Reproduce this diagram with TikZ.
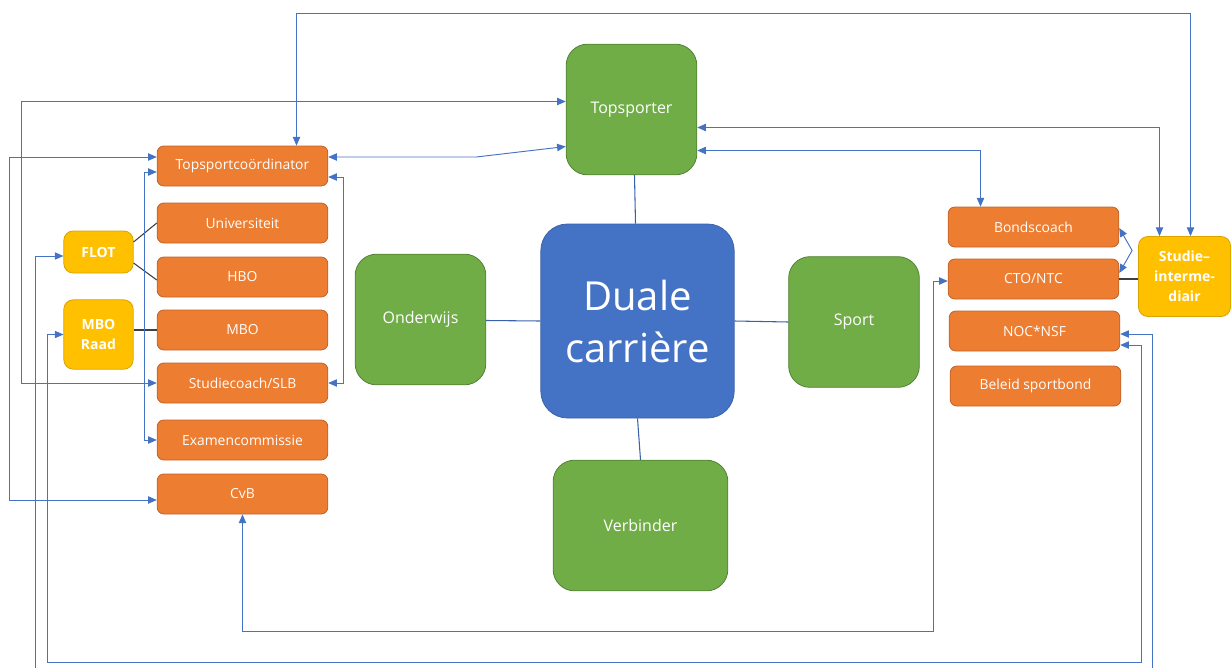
\documentclass[tikz,border=0pt]{standalone}
\usepackage{fontspec}
\setmainfont{Open Sans}
\usetikzlibrary{arrows.meta,calc}
\definecolor{oranje}{HTML}{ED7D31}
\definecolor{oranjerand}{HTML}{C0622A}
\definecolor{groen}{HTML}{70AD47}
\definecolor{groenrand}{HTML}{548235}
\definecolor{blauw}{HTML}{4472C4}
\definecolor{blauwrand}{HTML}{3A62AC}
\definecolor{geel}{HTML}{FFC000}
\definecolor{geelrand}{HTML}{D9A300}
\definecolor{pijl}{HTML}{4472C4}
\begin{document}
\begin{tikzpicture}[x=0.75pt, y=-0.75pt,
    box/.style={text=white, inner sep=0pt, align=center, line width=0.6pt},
    oranjebox/.style={box, rounded corners=5pt, draw=oranjerand, fill=oranje,
        minimum width=128pt, minimum height=30pt, font=\fontsize{10.4}{12}\selectfont},
    groenbox/.style={box, rounded corners=16pt, draw=groenrand, fill=groen,
        minimum width=98pt, minimum height=98pt, font=\fontsize{12}{14}\selectfont},
    geelbox/.style={box, rounded corners=7pt, draw=geelrand, fill=geel,
        minimum width=52pt, font=\bfseries\fontsize{10.5}{15}\selectfont},
    link/.style={draw=pijl, line width=0.7pt, {Triangle[length=6.5pt,width=5.5pt]}-{Triangle[length=6.5pt,width=5.5pt]}},
    linkto/.style={draw=pijl, line width=0.7pt, -{Triangle[length=6.5pt,width=5.5pt]}},
    hub/.style={draw=blauwrand, line width=0.8pt},
    plain/.style={draw=black!75, line width=0.8pt}]
\useasboundingbox (0,0) rectangle (1231,668);

\node[box, rounded corners=20pt, draw=blauwrand, fill=blauw, minimum width=145pt, minimum height=145.5pt,
    font=\fontsize{30}{39}\selectfont] (dc) at (637.5,321) {Duale\\carrière};
\node[groenbox] (tsp) at (631.5,109.5) {Topsporter};
\node[groenbox] (ow) at (420.5,319.5) {Onderwijs};
\node[groenbox] (sp) at (854,322) {Sport};
\node[groenbox, minimum width=131pt] (vb) at (640.5,525.5) {Verbinder};

\node[oranjebox] (tc) at (242.5,166) {Topsportcoördinator};
\node[oranjebox] (uni) at (242.5,223) {Universiteit};
\node[oranjebox] (hbo) at (242.5,277) {HBO};
\node[oranjebox] (mbo) at (242.5,330) {MBO};
\node[oranjebox] (slb) at (242.5,383) {Studiecoach/SLB};
\node[oranjebox] (exam) at (242.5,440) {Examencommissie};
\node[oranjebox] (cvb) at (242.5,494) {CvB};

\node[geelbox, minimum height=31.5pt] (flot) at (98.5,252) {FLOT};
\node[geelbox, minimum height=52pt] (mboraad) at (98.5,334.5) {MBO\\Raad};

\node[oranjebox] (bc) at (1033.5,227) {Bondscoach};
\node[oranjebox] (cto) at (1033.5,279) {CTO/NTC};
\node[oranjebox] (noc) at (1034.5,331) {NOC*NSF};
\node[oranjebox] (bel) at (1035.5,386) {Beleid sportbond};
\node[geelbox, minimum width=69pt, minimum height=60pt] (si) at (1184.5,276.5) {Studie–\\interme-\\diair};

\coordinate (uitL) at (35,668);
\coordinate (uitR) at (1152,668);

\draw[hub] ($(tsp.south)+(3,0)$) -- ($(dc.north)+(-2,0)$);
\draw[hub] ($(ow.east)+(0,1)$) -- (dc.west);
\draw[hub] (dc.east) -- (sp.west);
\draw[hub] (dc.south) -- (vb.north);

\draw[plain] ($(flot.east)+(0,-10)$) -- (uni.west);
\draw[plain] ($(flot.east)+(0,11)$) -- ($(hbo.west)+(0,3)$);
\draw[plain] (mboraad.east |- mbo.west) -- (mbo.west);
\draw[plain] (cto.east) -- (cto.east -| si.west);

\draw[link] (slb.west) -- ++(-135,0) |- ($(tsp.west)+(0,-8)$);
\draw[link] ($(tc.west)+(0,-9)$) -- ++(-147,0) |- ($(cvb.west)+(0,6)$);
\draw[link] ($(tc.west)+(0,6)$) -- ++(-12,0) |- (exam.west);
\draw[link] ($(tc.east)+(0,-9)$) -- ++(148,0) -- ($(tsp.west)+(0,37)$);
\draw[link] ($(tc.east)+(0,11)$) -- ++(15,0) |- (slb.east);
\draw[link] ($(tc.north)+(54,0)$) |- ($(si.north)+(6,-223)$) -- ($(si.north)+(6,0)$);
\draw[link] ($(tsp.east)+(0,18)$) -| ($(si.north)+(-25,0)$);
\draw[link] ($(tsp.east)+(0,41)$) -| ($(bc.north)+(-53,0)$);
\draw[link] ($(bc.east)+(0,1)$) -- ($(si.west)+(-6,-26)$) -- ($(cto.east)+(0,-6)$);
\draw[link] (cvb.south) -- ++(0,117) -| ($(cto.west)+(-14,2)$) -- ($(cto.west)+(0,2)$);
\draw[link] (mboraad.west) -| (47,662) -| ($(noc.east)+(21,14)$) -- ($(noc.east)+(0,14)$);
\draw[linkto] (uitL) |- ($(flot.west)+(0,4)$);
\draw[linkto] (uitR) |- ($(noc.east)+(0,3)$);
\end{tikzpicture}
\end{document}
